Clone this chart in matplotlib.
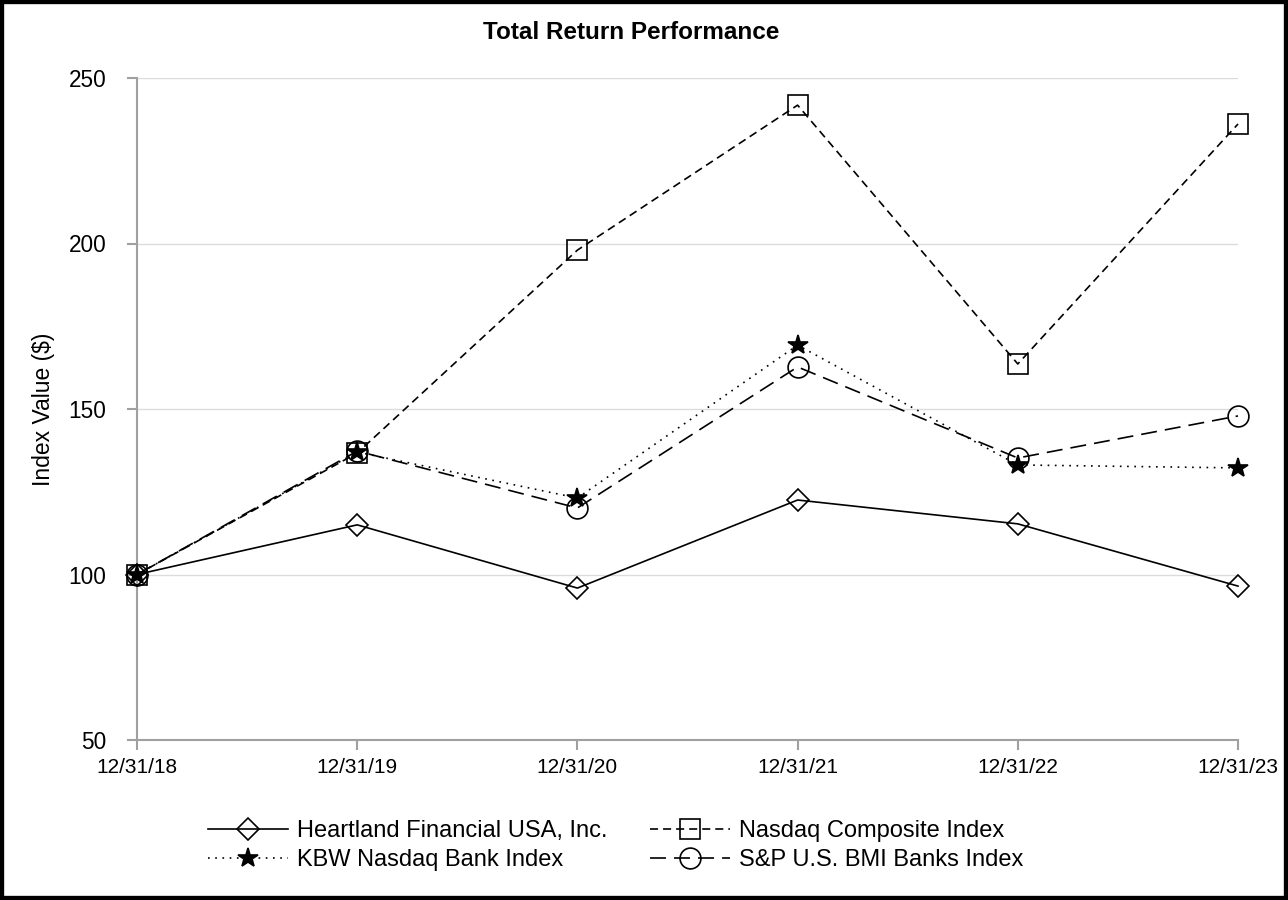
import matplotlib
matplotlib.use("Agg")
import matplotlib.pyplot as plt
from matplotlib.patches import Rectangle

# ---- data ----
dates = ["12/31/18", "12/31/19", "12/31/20", "12/31/21", "12/31/22", "12/31/23"]
heartland = [100.0, 115.0, 95.9, 122.5, 115.3, 96.5]
nasdaq = [100.0, 136.7, 198.0, 241.8, 163.6, 236.1]
kbw = [100.0, 137.0, 123.1, 169.3, 133.1, 132.2]
spbmi = [100.0, 137.3, 120.1, 162.7, 135.2, 147.9]
series_names = ["Heartland Financial USA, Inc.", "Nasdaq Composite Index",
                "KBW Nasdaq Bank Index", "S&P U.S. BMI Banks Index"]
yticks = [50, 100, 150, 200, 250]
title = "Total Return Performance"
ylabel = "Index Value ($)"

plt.rcParams['font.family'] = ['Liberation Sans', 'DejaVu Sans']
plt.rcParams['lines.scale_dashes'] = False

fig = plt.figure(figsize=(12.88, 9.0), dpi=100)
ax = fig.add_axes([137/1288, 1-740/900, (1238-137)/1288, (740-78)/900])

x = list(range(len(dates)))
lw = 1.2
styles = [
    dict(ls='-', marker='D', ms=11.5),
    dict(ls=(0, (5.8, 3.6)), marker='s', ms=15),
    dict(ls=(0, (1.2, 4.0)), marker='*', ms=15),
    dict(ls=(0, (11.5, 5.8)), marker='o', ms=15),
]
data = [heartland, nasdaq, kbw, spbmi]
handles = []
for vals, st, nm in zip(data, styles, series_names):
    filled = st['marker'] == '*'
    h, = ax.plot(x, vals, color='black', lw=lw, linestyle=st['ls'],
                 marker=st['marker'], markersize=st['ms'],
                 markerfacecolor='black' if filled else 'none',
                 markeredgecolor='black', markeredgewidth=1.2,
                 label=nm, clip_on=False, zorder=3)
    handles.append(h)

ax.set_xlim(0, 5)
ax.set_ylim(50, 250)
ax.set_yticks(yticks)
ax.set_xticks(x)
ax.set_xticklabels(dates)
ax.grid(axis='y', color='#dcdcdc', lw=1.0)
ax.set_axisbelow(True)
for s in ['top', 'right']:
    ax.spines[s].set_visible(False)
for s in ['left', 'bottom']:
    ax.spines[s].set_color('#a0a0a0')
    ax.spines[s].set_linewidth(1.5)
ax.tick_params(axis='both', direction='out', length=7, width=1.5, color='#a0a0a0')
ax.tick_params(axis='y', labelsize=16.3, pad=15)
ax.tick_params(axis='x', labelsize=15, pad=6)
ax.set_ylabel(ylabel, fontsize=16.5, labelpad=10)

fig.text(631/1288, 1-39/900, title, ha='center', va='baseline',
         fontsize=17.5, fontweight='bold')

leg_kw = dict(loc='center left', frameon=False, fontsize=17, handlelength=3.4,
              handletextpad=0.38, labelspacing=0.31, borderpad=0,
              borderaxespad=0)
leg1 = fig.legend([handles[0], handles[2]], [series_names[0], series_names[2]],
                  bbox_to_anchor=(208/1288, 1-845.5/900), **leg_kw)
leg2 = fig.legend([handles[1], handles[3]], [series_names[1], series_names[3]],
                  bbox_to_anchor=(650/1288, 1-845.5/900), **leg_kw)

fig.patches.append(Rectangle((0, 0), 1, 1, transform=fig.transFigure,
                             fill=False, edgecolor='black', lw=6, zorder=10))

fig.savefig("out.png", dpi=100)
